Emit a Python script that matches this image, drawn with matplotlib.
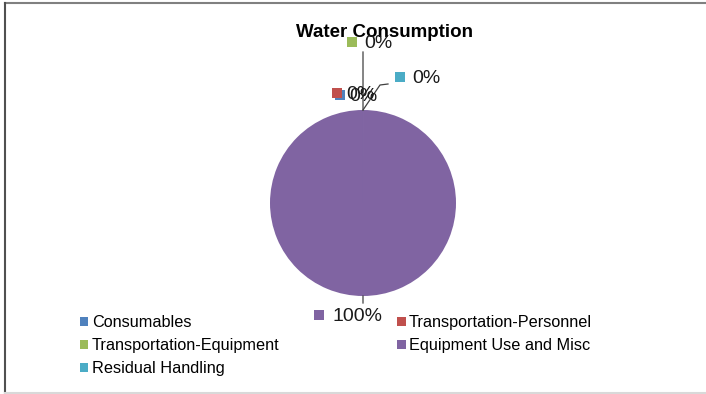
import numpy as np
import matplotlib.pyplot as plt
from matplotlib.patches import Patch

plt.rcParams["font.family"] = ["Liberation Sans", "DejaVu Sans"]

categories = ["Consumables", "Transportation-Personnel", "Transportation-Equipment",
              "Equipment Use and Misc", "Residual Handling"]
water_share = [0.001, 0.001, 0.001, 99.99, 0.001]
colors = ["#4F81BD", "#C0504D", "#9BBB59", "#8064A2", "#4BACC6"]

# label layout in pixel coords: marker x, marker y, text x
label_layout = [(340, 95, 349), (337, 93, 346), (352, 42, 364), (319, 315, 332), (400, 77, 412)]
# leader line bend points (after the point on the pie edge)
leaders = [[], [], [(363, 52)], [(363, 303)], [(380, 85), (388, 84)]]

fig = plt.figure(figsize=(7.06, 3.94), dpi=100)
ax = fig.add_axes([0, 0, 1, 1])

center = (363, 203)
radius = 93
wedges, _ = ax.pie(water_share, colors=colors, center=center, radius=radius,
                   startangle=-90, counterclock=True, wedgeprops=dict(linewidth=0))
ax.set_xlim(0, 706)
ax.set_ylim(394, 0)
ax.set_aspect("auto")
ax.axis("off")

ax.text(384, 32, "Water Consumption", ha="center", va="center",
        fontsize=13.5, fontweight="bold")

total = sum(water_share)
for i, w in enumerate(wedges):
    mid = np.deg2rad((w.theta1 + w.theta2) / 2)
    edge = (center[0] + radius * np.cos(mid), center[1] + radius * np.sin(mid))
    if leaders[i]:
        xs = [edge[0]] + [p[0] for p in leaders[i]]
        ys = [edge[1]] + [p[1] for p in leaders[i]]
        ax.plot(xs, ys, color="#404040", lw=0.9)
    mx, my, tx = label_layout[i]
    ax.plot(mx, my, marker="s", ms=7.2, color=colors[i], mew=0, ls="none")
    ax.text(tx, my + 1.5, f"{water_share[i] / total * 100:.0f}%", ha="left", va="center",
            fontsize=14, color="#1a1a1a")

order = [0, 2, 4, 1, 3]
handles = [Patch(facecolor=colors[i], edgecolor="none", label=categories[i]) for i in order]
ax.legend(handles=handles, loc="upper left", bbox_to_anchor=(80, 315),
          bbox_transform=ax.transData, ncol=2, frameon=False, fontsize=11.7,
          handlelength=0.52, handleheight=0.52, handletextpad=0.2,
          columnspacing=7.25, labelspacing=0.5, borderpad=0, borderaxespad=0)

ax.plot([5, 706], [3, 3], color="#808080", lw=1.5, clip_on=False)
ax.plot([5, 5], [3, 394], color="#505050", lw=1.5, clip_on=False)
ax.plot([5, 706], [393, 393], color="#d9d9d9", lw=1.5, clip_on=False)

fig.savefig("out.png", dpi=100)
